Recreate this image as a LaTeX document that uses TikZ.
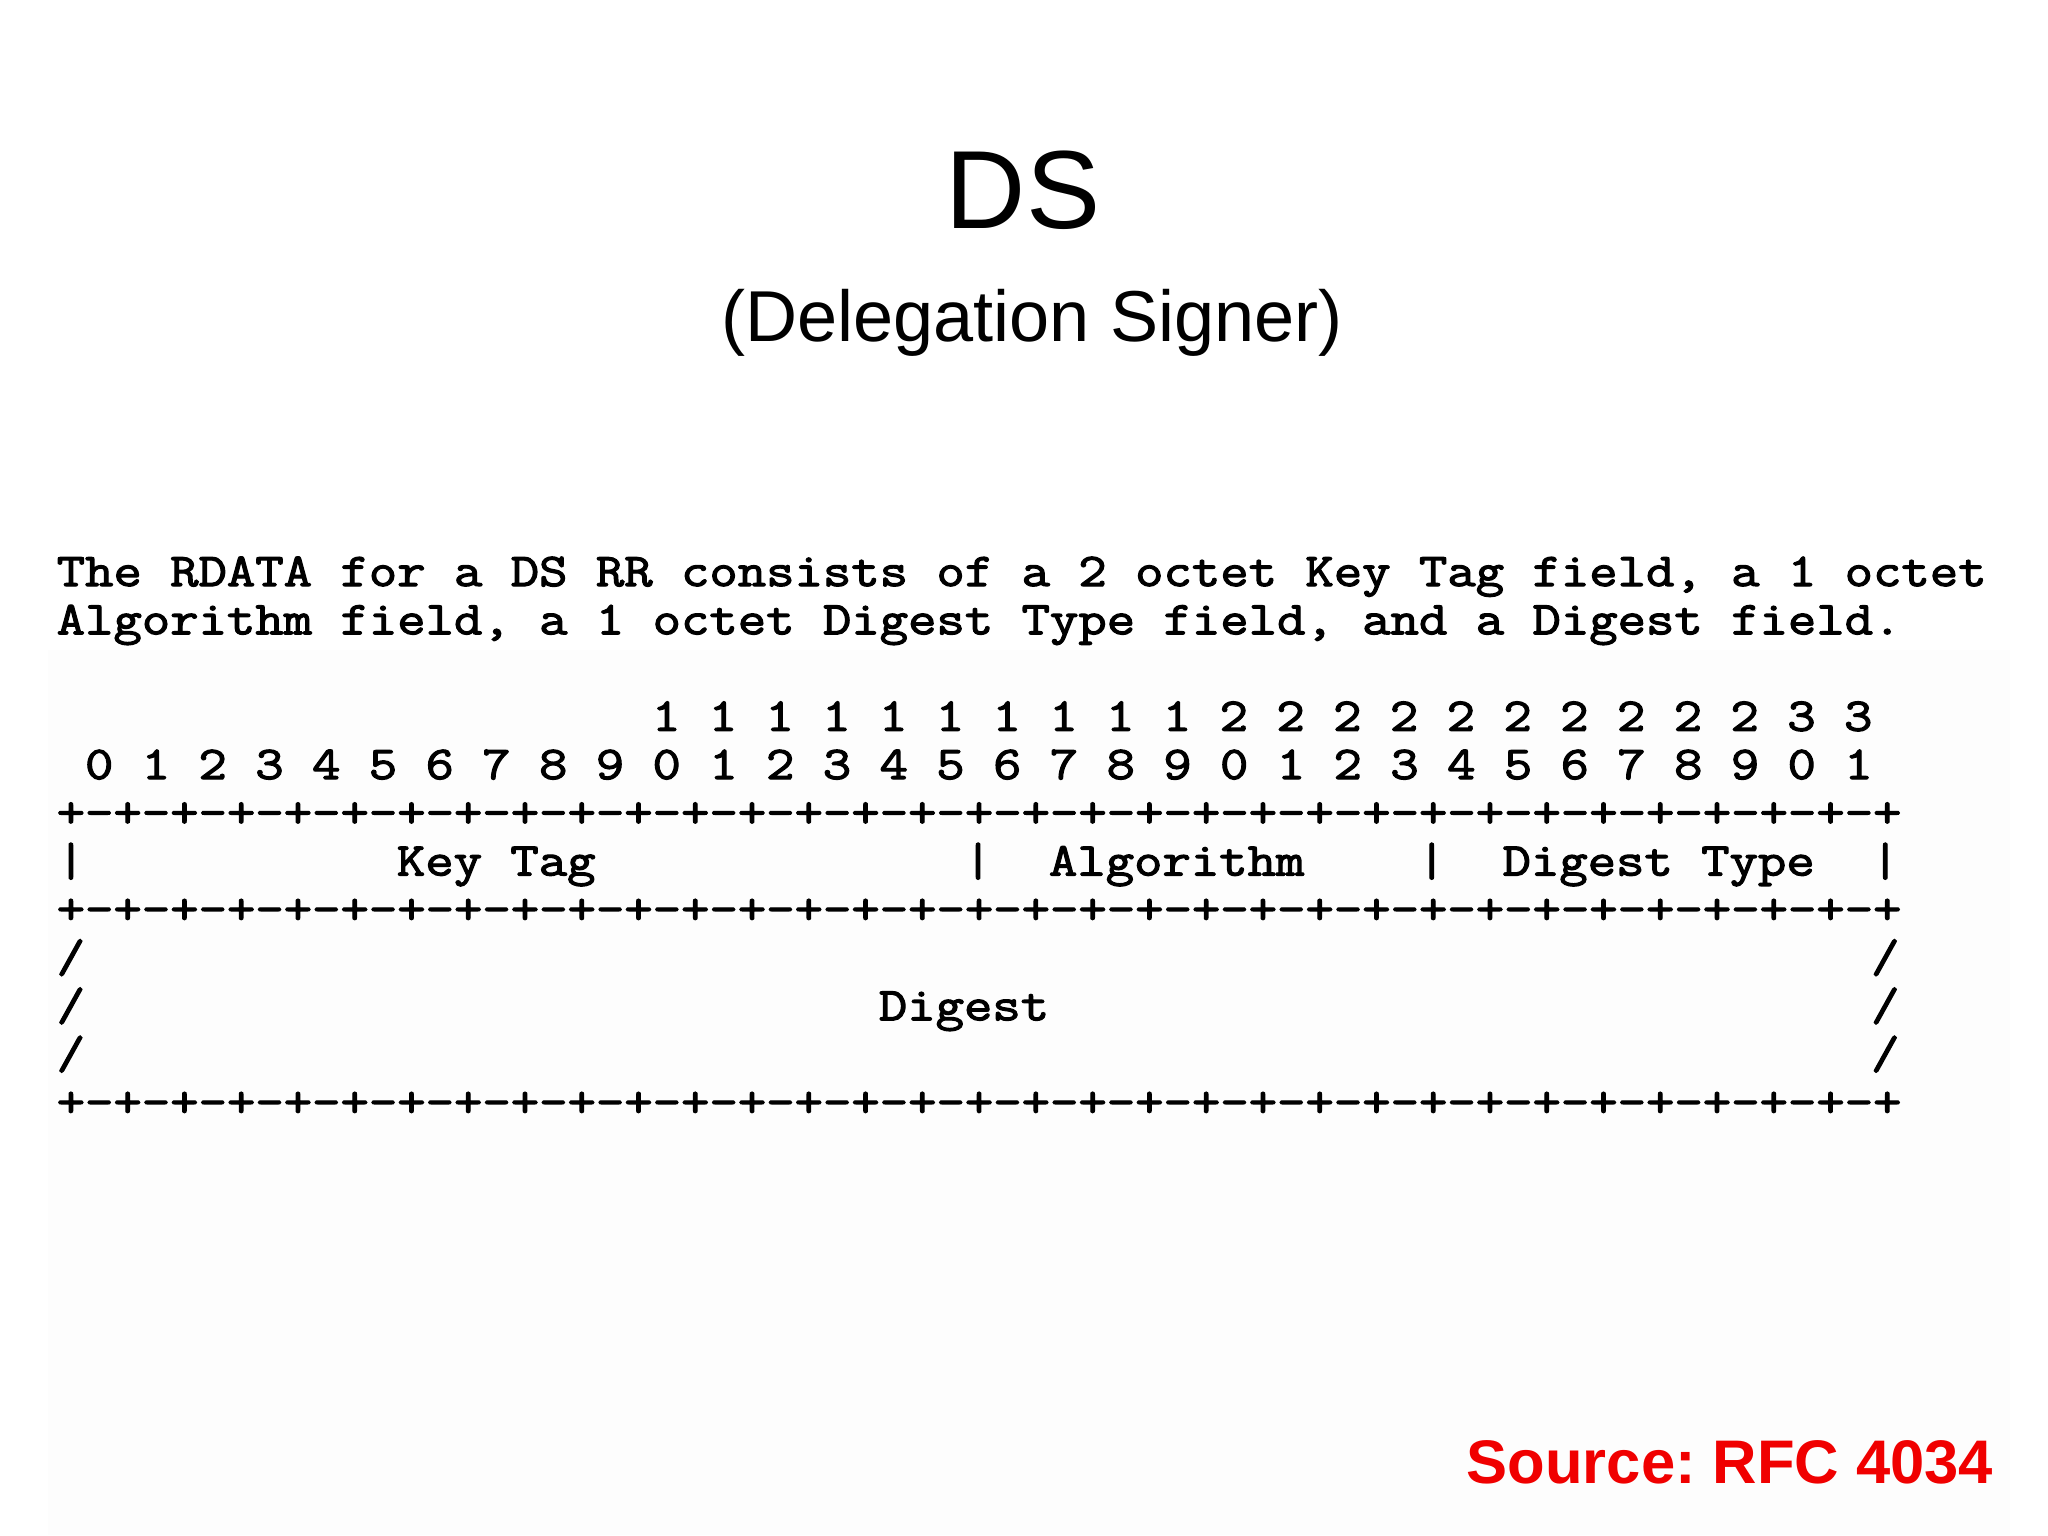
\documentclass[tikz,border=0pt]{standalone}
\usepackage{fontspec}
\setmainfont{Liberation Sans}
\newfontfamily\rfcfont{Latin Modern Mono}[FakeStretch=1.173,FakeBold=2.5]
\usepackage{tikz}
\frenchspacing

\definecolor{srcred}{RGB}{240,0,0}
\definecolor{panelgray}{RGB}{253,253,253}

% column / row of the RFC text grid (in px of the slide)
\newcommand{\cx}[1]{56+28.35*(#1)}
\newcommand{\ry}[1]{586+48.25*(#1)}

\tikzset{
	rfc/.style={anchor=base west, inner sep=0pt, font=\rfcfont\fontsize{13.36pt}{14pt}\selectfont},
	slidetitle/.style={anchor=base, inner sep=0pt, font=\fontsize{31.6pt}{34pt}\selectfont},
	slidesub/.style={anchor=base, inner sep=0pt, font=\fontsize{20.5pt}{24pt}\selectfont},
	srcnote/.style={anchor=base east, inner sep=0pt, text=srcred, font=\bfseries\fontsize{17.5pt}{20pt}\selectfont}
}

\begin{document}
\begin{tikzpicture}[x=0.01cm, y=-0.01cm]
	\useasboundingbox (0,0) rectangle (2048,1535);
	\fill[white] (0,0) rectangle (2048,1535);
	\fill[panelgray] (48,650) rectangle (2010,1535);

	\node[slidetitle] (title) at (1023,228) {DS};
	\node[slidesub] (subtitle) at (1032,341) {(Delegation Signer)};

	\node[rfc] (desc1) at ({\cx{0}},{\ry{0}}) {The RDATA for a DS RR consists of a 2 octet Key Tag field, a 1 octet};
	\node[rfc] (desc2) at ({\cx{0}},{\ry{1}}) {Algorithm field, a 1 octet Digest Type field, and a Digest field.};

	% bit numbers
	\node[rfc] (bithi) at ({\cx{21}},{\ry{3}}) {1 1 1 1 1 1 1 1 1 1 2 2 2 2 2 2 2 2 2 2 3 3};
	\node[rfc] (bitlo) at ({\cx{1}},{\ry{4}}) {0 1 2 3 4 5 6 7 8 9 0 1 2 3 4 5 6 7 8 9 0 1 2 3 4 5 6 7 8 9 0 1};

	\foreach \r/\n in {5/top, 7/mid, 11/bot}
		\node[rfc] (rule\n) at ({\cx{0}},{\ry{\r}}) {+-+-+-+-+-+-+-+-+-+-+-+-+-+-+-+-+-+-+-+-+-+-+-+-+-+-+-+-+-+-+-+-+};

	% first word: key tag, algorithm, digest type
	\foreach \c/\n in {0/a, 32/b, 48/c, 64/d}
		\node[rfc] (bar\n) at ({\cx{\c}},{\ry{6}}) {|};
	\node[rfc] (keytag) at ({\cx{12}},{\ry{6}}) {Key Tag};
	\node[rfc] (algo) at ({\cx{35}},{\ry{6}}) {Algorithm};
	\node[rfc] (dtype) at ({\cx{51}},{\ry{6}}) {Digest Type};

	% digest
	\foreach \r in {8,9,10} {
		\node[rfc] (slashl\r) at ({\cx{0}},{\ry{\r}}) {/};
		\node[rfc] (slashr\r) at ({\cx{64}},{\ry{\r}}) {/};
	}
	\node[rfc] (digest) at ({\cx{29}},{\ry{9}}) {Digest};

	\node[srcnote] (source) at (1994,1483) {Source: RFC 4034};
\end{tikzpicture}
\end{document}
